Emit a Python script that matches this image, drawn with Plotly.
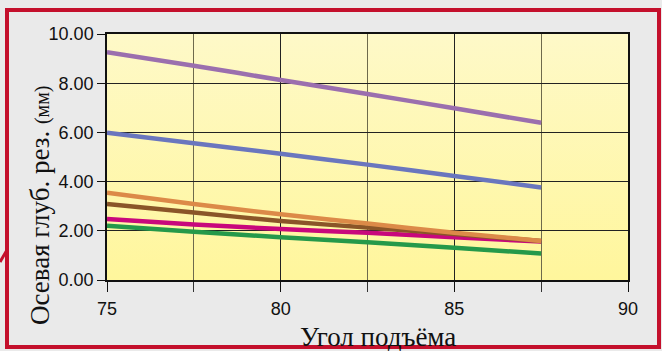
import base64
import plotly.graph_objects as go

# angle of rise (deg)
angles = [75, 77.5, 80, 82.5, 85, 87.5]

# axial cutting depth (mm), one list per curve
depth_purple = [9.26, 8.71, 8.13, 7.56, 6.98, 6.39]
depth_blue = [5.99, 5.56, 5.13, 4.69, 4.23, 3.76]
depth_orange = [3.55, 3.09, 2.67, 2.30, 1.92, 1.59]
depth_brown = [3.09, 2.74, 2.40, 2.13, 1.87, 1.59]
depth_magenta = [2.48, 2.26, 2.07, 1.92, 1.74, 1.56]
depth_green = [2.21, 1.96, 1.74, 1.53, 1.31, 1.08]

x_ticks = [75, 80, 85, 90]
y_ticks = [0, 2, 4, 6, 8, 10]

series = [
    (depth_green, "#25994A"),
    (depth_magenta, "#C8087C"),
    (depth_brown, "#8A5528"),
    (depth_orange, "#DC8A48"),
    (depth_blue, "#6A76BE"),
    (depth_purple, "#9B6FAE"),
]

# yellow gradient used as plot background (sits under the gridlines)
grad_svg = (
    "<svg xmlns='http://www.w3.org/2000/svg' width='100' height='100' preserveAspectRatio='none'>"
    "<defs><linearGradient id='g' x1='0' y1='0' x2='0' y2='1'>"
    "<stop offset='0' stop-color='#FEF9C8'/><stop offset='1' stop-color='#FFF69C'/>"
    "</linearGradient></defs><rect width='100' height='100' fill='url(#g)'/></svg>"
)
grad_src = "data:image/svg+xml;base64," + base64.b64encode(grad_svg.encode()).decode()

fig = go.Figure()

for ys, color in series:
    fig.add_trace(
        go.Scatter(
            x=angles,
            y=ys,
            mode="lines",
            line=dict(color=color, width=4.5, shape="spline", smoothing=0.8),
            showlegend=False,
        )
    )

serif = "Liberation Serif, Times New Roman, serif"
sans = "Liberation Sans, Arial, sans-serif"

fig.update_xaxes(
    range=[75, 90],
    tickvals=x_ticks,
    ticktext=[str(v) for v in x_ticks],
    showgrid=True,
    gridcolor="#222222",
    gridwidth=1,
    minor=dict(dtick=2.5, tick0=75, showgrid=True, gridcolor="#6E6A4C", gridwidth=1.3,
               ticks="outside", ticklen=10, tickcolor="#333333"),
    ticks="outside",
    ticklen=10,
    tickcolor="#111111",
    ticklabelstandoff=2,
    showline=True,
    linecolor="#111111",
    linewidth=1.5,
    mirror=True,
    zeroline=False,
    automargin=False,
    tickfont=dict(family=sans, size=18, color="#111111"),
)
fig.update_yaxes(
    range=[0, 10],
    tickvals=y_ticks,
    ticktext=[f"{v:.2f}" for v in y_ticks],
    showgrid=True,
    gridcolor="#222222",
    gridwidth=1,
    ticks="outside",
    ticklen=8,
    tickcolor="#111111",
    showline=True,
    linecolor="#111111",
    linewidth=1.5,
    mirror=True,
    zeroline=False,
    automargin=False,
    tickfont=dict(family=sans, size=18, color="#111111"),
)

fig.update_layout(
    width=662,
    height=351,
    margin=dict(l=107, r=34, t=34, b=71),
    paper_bgcolor="#EAEAEA",
    plot_bgcolor="#FEF8B8",
    images=[
        dict(source=grad_src, xref="x domain", yref="y domain", x=0, y=1,
             sizex=1, sizey=1, xanchor="left", yanchor="top",
             sizing="stretch", layer="below"),
    ],
    annotations=[
        dict(text="Осевая глуб. рез. <span style='font-size:20px'>(мм)</span>",
             xref="paper", yref="paper", x=-67 / 521, y=75 / 246,
             xanchor="center", yanchor="middle", textangle=-90, showarrow=False,
             font=dict(family=serif, size=27, color="#111111")),
        dict(text="Угол подъёма",
             xref="paper", yref="paper", x=271 / 521, y=-57 / 246,
             xanchor="center", yanchor="middle", showarrow=False,
             font=dict(family=serif, size=27, color="#111111")),
    ],
    shapes=[
        # red frame around the chart
        dict(type="rect", xref="paper", yref="paper",
             x0=-100 / 521, x1=1 + 31 / 521, y0=-67 / 246, y1=1 + 24 / 246,
             line=dict(color="#C4102C", width=4), layer="above"),
        # small red stroke at left edge
        dict(type="line", xref="paper", yref="paper",
             x0=-107 / 521, x1=-100 / 521, y0=(280 - 262) / 246, y1=(280 - 250) / 246,
             line=dict(color="#C4102C", width=3)),
    ],
)

fig.write_html(
    "out.html",
    config={"displayModeBar": False},
    post_script="document.body.style.margin='0';",
)
